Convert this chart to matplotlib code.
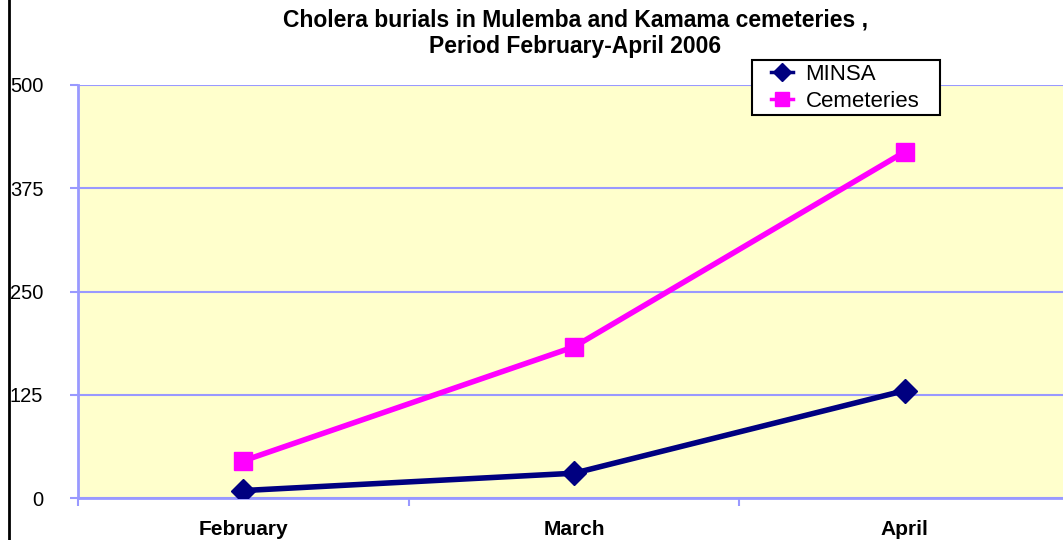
import matplotlib.pyplot as plt
from matplotlib.lines import Line2D
from matplotlib.patches import Rectangle

# data
months = ['February', 'March', 'April']
minsa = [9, 30, 130]
cemeteries = [45, 183, 419]
y_ticks = [0, 125, 250, 375, 500]

W, H = 1063, 540
fig = plt.figure(figsize=(W / 100, H / 100), dpi=100)
plt.rcParams['font.family'] = ['Liberation Sans', 'DejaVu Sans']

# plot area: left 78px, right ~1070px (runs past the edge), top 85px, bottom 498px
ax = fig.add_axes([78 / W, 1 - 498 / H, (1070 - 78) / W, (498 - 85) / H])
ax.set_facecolor('#FFFFCC')

x = list(range(len(months)))
l1, = ax.plot(x, minsa, color='#000080', lw=4, marker='D', ms=12, label='MINSA', zorder=3)
l2, = ax.plot(x, cemeteries, color='#FF00FF', lw=4, marker='s', ms=13, label='Cemeteries', zorder=3)

ax.set_xlim(-0.5, 2.5)
ax.set_ylim(0, 500)
ax.set_yticks(y_ticks)
ax.set_yticklabels([str(v) for v in y_ticks], fontsize=14.5)
ax.set_xticks(x)
ax.set_xticklabels(months, fontsize=15, fontweight='bold')
ax.tick_params(axis='x', length=0, pad=16)
ax.set_xticks([-0.5, 0.5, 1.5, 2.5], minor=True)
ax.tick_params(axis='x', which='minor', length=6, width=1.5, color='#9999FF', direction='out')
ax.tick_params(axis='y', length=6, width=1.5, color='#9999FF', pad=19)

ax.grid(axis='y', color='#9999FF', lw=1.5)
ax.set_axisbelow(True)
for side in ['top', 'right']:
    ax.spines[side].set_visible(False)
for side in ['left', 'bottom']:
    ax.spines[side].set_color('#9999FF')
    ax.spines[side].set_linewidth(2)

fig.text(576 / W, 1 - 20 / H, 'Cholera burials in Mulemba and Kamama cemeteries ,',
         ha='center', va='center', fontsize=16.5, fontweight='bold')
fig.text(575 / W, 1 - 47 / H, 'Period February-April 2006',
         ha='center', va='center', fontsize=16.5, fontweight='bold')

# legend box drawn by hand so the padding can differ left/right
fig.add_artist(Rectangle((752 / W, 1 - 115 / H), (940 - 752) / W, (115 - 60) / H,
                         transform=fig.transFigure, facecolor='white',
                         edgecolor='black', lw=1.5, zorder=4))
leg = fig.legend([l1, l2], ['MINSA', 'Cemeteries'], loc='upper left',
                 bbox_to_anchor=(771 / W, 1 - 64 / H), fontsize=16, frameon=False,
                 handlelength=1.0, borderpad=0, labelspacing=0.28,
                 handletextpad=0.55, borderaxespad=0, markerscale=0.75)
leg.set_zorder(5)
for h in leg.get_lines():
    h.set_linewidth(2.5)

# black vertical line at the far left
fig.add_artist(Line2D([9 / W, 9 / W], [0, 1], transform=fig.transFigure,
                      color='black', lw=2))

fig.savefig('out.png', dpi=100)
